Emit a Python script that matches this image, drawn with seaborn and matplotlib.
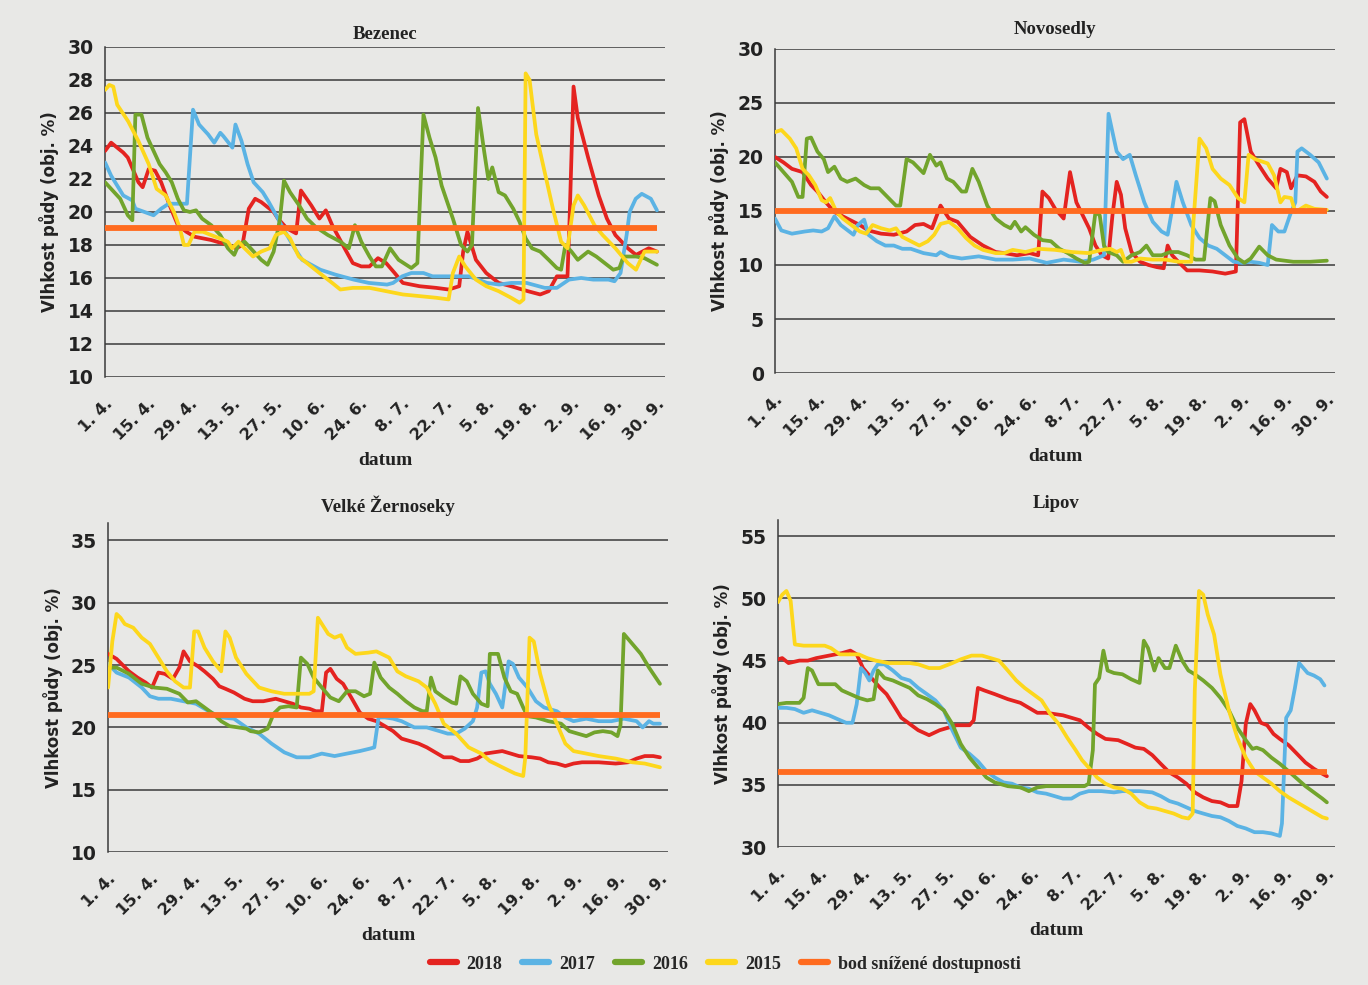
# Vlhkost pudy - 4 lokality, duben az zari 2015-2018

import numpy as np
import pandas as pd
import matplotlib
matplotlib.use("Agg")
import matplotlib.pyplot as plt
from matplotlib.lines import Line2D
import seaborn as sns


# -------------------------------
# 1. Data (den od 1. 4., vlhkost obj. %)
# -------------------------------

tick_days = list(range(0, 183, 14))
tick_labels = ["1. 4.", "15. 4.", "29. 4.", "13. 5.", "27. 5.", "10. 6.", "24. 6.",
               "8. 7.", "22. 7.", "5. 8.", "19. 8.", "2. 9.", "16. 9.", "30. 9."]

years = ["2018", "2017", "2016", "2015"]
colors = {"2018": "#e42320", "2017": "#5bb3e4", "2016": "#72a42c", "2015": "#fdd71c"}
threshold_color = "#ff6b1f"
threshold_label = "bod snížené dostupnosti"

# Bezenec
BEZ_2018 = [(0, 23.7), (2, 24.2), (6, 23.6), (7.5, 23.3), (11, 21.8), (12.4, 21.5), (14.4, 22.6),
            (16.5, 22.5), (18.5, 21.8), (21.3, 20.4), (24, 19.2), (26.8, 18.8), (29.5, 18.5), (35, 18.3),
            (40.5, 18.0), (43.3, 17.8), (45.3, 18.0), (47.4, 20.2), (49.5, 20.8), (51.5, 20.6), (55.6, 20.0),
            (57, 19.6), (60, 19.0), (63, 18.7), (64.6, 21.3), (68, 20.4), (70.7, 19.6), (72.8, 20.1),
            (74.9, 19.2), (79, 17.8), (81.7, 16.9), (84.5, 16.7), (87.2, 16.7), (90, 17.2), (92.7, 16.9),
            (95.5, 16.3), (98.2, 15.7), (103.7, 15.5), (109.2, 15.4), (113.3, 15.3), (116.8, 15.5),
            (118.1, 17.6), (119.5, 18.8), (122.3, 17.1), (125.7, 16.3), (129.8, 15.7), (133.9, 15.5),
            (139.4, 15.2), (143.5, 15.0), (146.3, 15.2), (149, 16.1), (152.5, 16.1), (153.2, 19.6),
            (154.5, 27.6), (155.9, 25.7), (159.3, 23.3), (162.8, 21.0), (165.5, 19.6), (168.3, 18.6),
            (172.4, 17.8), (175.1, 17.4), (179.3, 17.8), (182, 17.6)]
BEZ_2017 = [(0, 23.0), (2, 22.2), (6, 21.0), (9, 20.7), (10, 20.2), (13, 20.0), (16, 19.8), (18.5, 20.2),
            (21, 20.5), (27, 20.5), (29, 26.2), (31, 25.3), (34, 24.7), (36, 24.2), (38, 24.8), (39, 24.6),
            (42, 23.9), (43, 25.3), (45, 24.3), (47, 22.9), (49, 21.8), (52, 21.2), (54, 20.6), (57, 19.6),
            (60, 18.6), (62.5, 17.8), (65, 17.1), (71, 16.5), (76, 16.2), (82, 15.9), (87, 15.7), (93, 15.6),
            (95, 15.7), (98, 16.1), (101, 16.3), (105, 16.3), (108, 16.1), (112, 16.1), (116, 16.1),
            (120, 16.1), (126, 15.7), (130, 15.6), (134, 15.7), (139, 15.7), (145, 15.4), (149, 15.4),
            (153, 15.9), (157, 16.0), (161, 15.9), (166, 15.9), (168, 15.8), (170, 16.3), (172, 18.6),
            (173, 20.0), (175, 20.8), (177, 21.1), (180, 20.8), (182, 20.1)]
BEZ_2016 = [(0, 21.8), (2, 21.4), (5, 20.8), (7.5, 19.8), (9, 19.5), (10, 25.9), (12, 25.9), (14, 24.5),
            (16, 23.7), (18, 22.9), (20, 22.4), (22, 21.8), (24, 20.8), (26, 20.1), (28, 20.0), (30, 20.1),
            (32, 19.6), (35, 19.2), (38, 18.6), (40.5, 17.8), (42.6, 17.4), (44, 18.0), (46, 18.2),
            (49, 17.6), (51.5, 17.1), (53.6, 16.8), (55.6, 17.6), (57.7, 19.6), (59, 21.9), (61, 21.2),
            (64, 20.4), (66.6, 19.6), (69.4, 19.1), (73.5, 18.6), (77.6, 18.2), (80.4, 17.8), (82.4, 19.2),
            (84.5, 18.2), (87.2, 17.3), (89.3, 16.7), (91.3, 16.7), (94, 17.8), (96.8, 17.1), (101, 16.6),
            (103, 16.9), (105, 25.9), (107, 24.5), (109, 23.3), (111, 21.6), (114.7, 19.6), (117.4, 18.0),
            (119.5, 17.6), (121, 18.0), (123, 26.3), (125, 23.7), (126.4, 22.0), (127.7, 22.7),
            (129.8, 21.2), (131.9, 21.0), (134.6, 20.2), (136.7, 19.4), (138.7, 18.4), (140.8, 17.8),
            (143.5, 17.6), (146.3, 17.1), (149, 16.6), (150.4, 16.5), (151.8, 18.0), (153.8, 17.6),
            (155.9, 17.1), (159.3, 17.6), (162, 17.3), (164.8, 16.9), (167.6, 16.5), (169.6, 16.6),
            (171, 17.3), (175.1, 17.3), (177.9, 17.2), (182, 16.8)]
BEZ_2015 = [(0, 27.4), (1.4, 27.7), (2.7, 27.6), (4, 26.5), (7.6, 25.5), (11, 24.3), (14.4, 22.9),
            (17, 21.4), (20, 21.0), (22.7, 20.0), (24.7, 19.0), (26, 18.0), (27.5, 18.0), (29.5, 18.8),
            (32.3, 18.8), (35, 18.6), (37.8, 18.4), (40.5, 18.2), (41.9, 17.8), (44, 18.2), (46, 17.8),
            (48.8, 17.3), (51.5, 17.6), (54.3, 17.8), (56.3, 18.6), (59, 18.8), (61, 18.4), (63.9, 17.3),
            (66.6, 16.9), (70.7, 16.3), (74.9, 15.7), (77.6, 15.3), (81.7, 15.4), (87.2, 15.4), (92.7, 15.2),
            (98.2, 15.0), (103.7, 14.9), (109.2, 14.8), (113.3, 14.7), (114.7, 16.3), (116.8, 17.3),
            (118.8, 16.7), (122.3, 15.9), (125.7, 15.5), (129.8, 15.2), (133.9, 14.8), (136.7, 14.5),
            (138, 14.7), (138.7, 28.4), (140, 28.0), (142.2, 24.7), (145, 22.4), (147.7, 20.2),
            (150.4, 18.2), (152.5, 17.8), (154.5, 20.4), (155.9, 21.0), (158, 20.4), (161.4, 19.2),
            (164.1, 18.6), (168.3, 17.8), (172.4, 16.9), (175.1, 16.5), (177.9, 17.6), (182, 17.6)]

# Novosedly
NOV_2018 = [(0, 20.0), (2.8, 19.5), (5.6, 18.9), (9.1, 18.6), (11.9, 17.4), (14, 16.8), (16.8, 15.8),
            (19.6, 14.9), (23.8, 14.3), (28, 13.7), (30.8, 13.2), (35, 12.9), (39.2, 12.8), (43.4, 13.1),
            (46.2, 13.7), (49, 13.8), (51.8, 13.4), (54.6, 15.5), (57.4, 14.3), (60.2, 14.0), (64.4, 12.6),
            (68.6, 11.8), (72.8, 11.2), (75.6, 11.1), (79.8, 10.9), (84, 11.1), (86.8, 10.9), (88.2, 16.8),
            (90.3, 16.2), (92.4, 15.2), (95.2, 14.3), (97.3, 18.6), (99.4, 15.8), (101.5, 14.6),
            (103.6, 13.4), (105.7, 11.8), (107.8, 10.9), (109.9, 10.6), (111.3, 14.6), (112.7, 17.7),
            (114.1, 16.5), (115.5, 13.4), (117.6, 11.2), (120.4, 10.3), (123.2, 10.0), (126, 9.8),
            (128.2, 9.7), (129.5, 11.8), (131, 10.9), (133, 10.3), (135.9, 9.5), (140, 9.5), (144.3, 9.4),
            (148.5, 9.2), (152, 9.4), (153.4, 23.2), (154.8, 23.5), (156.9, 20.5), (159.7, 19.2),
            (162.5, 18.0), (165.3, 17.1), (166.7, 18.9), (168.8, 18.6), (170.2, 17.1), (172.3, 18.3),
            (175.1, 18.2), (177.9, 17.7), (180, 16.8), (182, 16.3)]
NOV_2017 = [(0, 14.3), (2.1, 13.2), (5.6, 12.9), (9.8, 13.1), (12.6, 13.2), (15.4, 13.1), (17.5, 13.4),
            (19.6, 14.5), (21.7, 13.7), (24.5, 13.1), (25.9, 12.8), (27.3, 13.7), (29.4, 14.2), (30.8, 12.8),
            (33.6, 12.2), (36.4, 11.8), (39.2, 11.8), (42, 11.5), (44.8, 11.5), (49, 11.1), (53.2, 10.9),
            (54.6, 11.2), (57.4, 10.8), (61.6, 10.6), (67.2, 10.8), (72.8, 10.5), (78.4, 10.5), (84, 10.6),
            (89.6, 10.2), (95.2, 10.5), (100.8, 10.3), (105, 10.5), (108.5, 10.9), (110, 24.0),
            (111.3, 22.3), (112.7, 20.5), (114.8, 19.8), (117, 20.2), (119, 18.3), (121.8, 15.8),
            (124.6, 14.0), (127.5, 13.1), (129.5, 12.8), (131, 15.2), (132.4, 17.7), (134.5, 15.8),
            (137.3, 13.7), (140, 12.5), (142.9, 11.8), (145.7, 11.5), (148.5, 10.9), (151.3, 10.3),
            (154, 10.2), (156.9, 10.3), (159.7, 10.2), (162.5, 10.0), (163.9, 13.7), (166, 13.1),
            (168, 13.1), (170.2, 14.9), (171.6, 15.8), (172.3, 20.5), (173.7, 20.8), (176.5, 20.2),
            (179.3, 19.5), (182, 18.0)]
NOV_2016 = [(0, 19.5), (2.8, 18.6), (5.6, 17.7), (7.7, 16.3), (9.1, 16.3), (10.5, 21.7), (11.9, 21.8),
            (14, 20.5), (16.1, 19.8), (17.5, 18.6), (19.6, 19.1), (21.7, 18.0), (23.8, 17.7), (26.6, 18.0),
            (29.4, 17.4), (31.5, 17.1), (34.3, 17.1), (37.1, 16.3), (39.9, 15.5), (41.3, 15.5), (43.4, 19.8),
            (45.5, 19.5), (47.6, 18.9), (49, 18.5), (51.1, 20.2), (53.2, 19.2), (54.6, 19.5), (56.7, 18.0),
            (58.8, 17.7), (61.6, 16.8), (63, 16.8), (65.1, 18.9), (67.2, 17.7), (70, 15.5), (72.8, 14.3),
            (75.6, 13.7), (77.7, 13.4), (79.1, 14.0), (81.2, 13.1), (82.6, 13.5), (85.4, 12.8), (88.2, 12.3),
            (91, 12.2), (93.8, 11.5), (96.6, 11.1), (99.4, 10.6), (102.2, 10.2), (103.6, 10.3),
            (105.7, 14.9), (107.1, 14.6), (108.5, 11.8), (109.9, 11.2), (112.7, 10.9), (114.8, 10.3),
            (117.6, 10.9), (120.4, 11.2), (122.5, 11.8), (124.6, 10.9), (127.5, 10.9), (130.3, 11.2),
            (133, 11.2), (135.9, 10.9), (138.7, 10.5), (141.5, 10.5), (143.6, 16.2), (145, 15.9),
            (147, 13.7), (149.9, 11.8), (152.7, 10.6), (154.8, 10.2), (156.9, 10.6), (159.7, 11.7),
            (162.5, 10.9), (165.3, 10.5), (170.9, 10.3), (176.5, 10.3), (182, 10.4)]
NOV_2015 = [(0, 22.3), (2.1, 22.5), (4.9, 21.7), (7, 20.8), (9.1, 18.9), (11.2, 18.3), (13.3, 17.4),
            (15.4, 16.0), (16.8, 15.8), (18.2, 16.2), (20.3, 14.9), (22.4, 14.3), (25.2, 13.7), (28, 13.1),
            (30.1, 12.9), (32.2, 13.7), (35, 13.4), (37.8, 13.2), (39.9, 13.4), (42, 12.6), (44.8, 12.2),
            (47.6, 11.8), (50.4, 12.2), (52.5, 12.8), (54.6, 13.8), (57.4, 14.0), (60.2, 13.4), (63, 12.5),
            (65.8, 11.8), (68.6, 11.4), (72.8, 11.1), (75.6, 11.1), (78.4, 11.4), (82.6, 11.2), (86.8, 11.5),
            (92.4, 11.4), (98, 11.2), (103.6, 11.1), (107.8, 11.4), (110.6, 11.5), (112.7, 11.2),
            (114.1, 11.4), (115.5, 10.3), (117.6, 10.3), (120.4, 10.6), (124.6, 10.5), (128.9, 10.5),
            (133, 10.3), (137.3, 10.3), (138, 14.0), (140, 21.7), (142.2, 20.8), (144.3, 18.9), (147, 18.0),
            (149.9, 17.4), (152.7, 16.2), (154.8, 15.8), (156.2, 20.2), (158.3, 19.8), (162.5, 19.4),
            (164.6, 18.3), (166.7, 15.8), (168, 16.3), (170.2, 16.2), (171.6, 14.9), (175.1, 15.5),
            (177.9, 15.2), (182, 15.1)]

# Velke Zernoseky
ZER_2018 = [(0, 25.9), (2.8, 25.5), (6.9, 24.5), (9.7, 24.0), (12.4, 23.6), (14.5, 23.2), (16.6, 24.4),
            (18.7, 24.3), (21.4, 23.9), (23.5, 24.8), (24.9, 26.1), (27, 25.3), (29.7, 24.9), (31.8, 24.5),
            (34.6, 23.9), (36.7, 23.3), (38.7, 23.1), (41.5, 22.8), (45, 22.3), (47.7, 22.1), (51.2, 22.1),
            (55.3, 22.3), (58.1, 22.1), (60.9, 21.9), (63.6, 21.6), (66.4, 21.5), (68.5, 21.3), (70.5, 21.3),
            (71.9, 24.4), (73.3, 24.7), (75.4, 23.9), (77.5, 23.5), (80.2, 22.4), (83, 21.2), (85.8, 20.7),
            (88.5, 20.5), (91.3, 20.1), (94, 19.7), (96.8, 19.1), (99.6, 18.9), (102.4, 18.7), (105.1, 18.4),
            (107.9, 18.0), (110.7, 17.6), (113.4, 17.6), (116.2, 17.3), (119, 17.3), (121.7, 17.5),
            (124.5, 17.9), (127.2, 18.0), (130, 18.1), (132.8, 17.9), (135.5, 17.7), (139.7, 17.6),
            (142.5, 17.5), (145.2, 17.2), (148, 17.1), (150.8, 16.9), (153.5, 17.1), (156.3, 17.2),
            (161.8, 17.2), (167.4, 17.1), (171.5, 17.2), (174.3, 17.5), (177, 17.7), (179.8, 17.7),
            (182, 17.6)]
ZER_2017 = [(0, 25.1), (2.8, 24.4), (6.9, 24.0), (11.1, 23.2), (13.8, 22.5), (16.6, 22.3), (20.7, 22.3),
            (24.9, 22.1), (29, 21.9), (33.2, 21.3), (37.3, 20.8), (41.5, 20.7), (45.6, 20.0), (49.8, 19.5),
            (53.9, 18.7), (58.1, 18.0), (62.2, 17.6), (66.4, 17.6), (70.5, 17.9), (74.7, 17.7), (78.8, 17.9),
            (83, 18.1), (86.4, 18.3), (87.8, 18.4), (89.2, 20.8), (91.3, 20.8), (94, 20.7), (96.8, 20.5),
            (101, 20.0), (105.1, 20.0), (109.3, 19.7), (112, 19.5), (114.8, 19.5), (117.6, 19.9),
            (120.3, 20.5), (121.7, 21.6), (123.1, 24.4), (124.5, 24.5), (125.9, 23.5), (127.9, 22.7),
            (130, 21.6), (132.1, 25.3), (133.5, 25.1), (135.5, 24.0), (138.3, 23.2), (141.1, 22.1),
            (143.8, 21.6), (148, 21.3), (150.8, 20.8), (153.5, 20.5), (157.7, 20.7), (161.8, 20.5),
            (166, 20.5), (170.1, 20.7), (174.3, 20.5), (176.3, 20.0), (178.4, 20.5), (179.8, 20.3),
            (182, 20.3)]
ZER_2016 = [(0, 24.8), (2.8, 24.8), (6.9, 24.3), (11.1, 23.5), (15.2, 23.2), (19.4, 23.1), (23.5, 22.7),
            (26.3, 22.0), (29, 22.1), (31.8, 21.6), (34.6, 21.1), (37.3, 20.5), (40.1, 20.1), (42.9, 20.0),
            (45.6, 19.9), (47, 19.7), (49.8, 19.6), (52.6, 19.9), (54.6, 21.1), (56.7, 21.6), (59.5, 21.7),
            (62.2, 21.6), (63.6, 25.6), (65.7, 25.1), (67.8, 24.0), (70.5, 23.2), (73.3, 22.4), (76.1, 22.1),
            (78.8, 22.9), (81.6, 22.9), (84.4, 22.5), (86.4, 22.7), (87.8, 25.2), (89.9, 24.0), (92.7, 23.2),
            (95.4, 22.7), (98.2, 22.1), (101, 21.6), (103.7, 21.3), (105.1, 21.3), (106.5, 24.0),
            (107.9, 22.9), (110.7, 22.4), (113.4, 22.0), (114.8, 21.9), (116.2, 24.1), (118.3, 23.7),
            (120.3, 22.7), (123.1, 21.9), (125.2, 21.7), (125.9, 25.9), (128.6, 25.9), (130.7, 24.0),
            (132.8, 22.9), (134.9, 22.7), (136.9, 21.6), (138.3, 20.9), (141.1, 20.8), (145.2, 20.5),
            (149.4, 20.3), (152.1, 19.7), (154.9, 19.5), (157.7, 19.3), (160.4, 19.6), (163.2, 19.7),
            (166, 19.6), (168, 19.3), (169, 20.2), (170.1, 27.5), (172.9, 26.7), (175.7, 25.9),
            (178.4, 24.8), (182, 23.5)]
ZER_2015 = [(0, 23.2), (1.4, 26.9), (2.8, 29.1), (4.1, 28.8), (5.5, 28.3), (8.3, 28.0), (11.1, 27.2),
            (13.8, 26.7), (16.6, 25.6), (19.4, 24.5), (22.1, 23.7), (24.9, 23.2), (27, 23.2), (28.4, 27.7),
            (29.7, 27.7), (31.8, 26.4), (34.6, 25.3), (37.3, 24.5), (38.7, 27.7), (40.1, 27.2), (42.2, 25.6),
            (45.6, 24.3), (49.8, 23.2), (53.9, 22.9), (58.1, 22.7), (62.2, 22.7), (66.4, 22.7), (67.8, 22.9),
            (69.2, 28.8), (70.5, 28.3), (72.6, 27.5), (74.7, 27.2), (76.8, 27.4), (78.8, 26.4), (81.6, 25.9),
            (85.8, 26.0), (88.5, 26.1), (92.7, 25.6), (95.4, 24.5), (98.2, 24.1), (102.4, 23.7),
            (105.1, 23.2), (107.9, 21.9), (110.7, 20.3), (114.8, 19.5), (118.9, 18.4), (123.1, 17.9),
            (125.9, 17.3), (130, 16.8), (134.2, 16.3), (136.9, 16.1), (137.6, 17.6), (139, 27.2),
            (140.4, 26.9), (142.5, 24.3), (145.2, 21.9), (148, 20.3), (150.8, 18.7), (153.5, 18.1),
            (157.7, 17.9), (161.8, 17.7), (167.4, 17.5), (172.9, 17.2), (177, 17.1), (182, 16.8)]

# Lipov
LIP_2018 = [(0, 45.1), (1.4, 45.2), (3.5, 44.8), (7.1, 45.0), (9.9, 45.0), (12.7, 45.2), (16.9, 45.4),
            (21.2, 45.6), (24, 45.8), (26.1, 45.5), (28.2, 44.4), (31, 43.6), (33.9, 42.8), (36, 42.3),
            (38.1, 41.5), (40.9, 40.4), (43.7, 39.9), (46.5, 39.4), (50.1, 39.0), (53.6, 39.4), (56.4, 39.6),
            (59.2, 39.8), (63.5, 39.8), (64.9, 40.2), (66.3, 42.8), (68.4, 42.6), (71.9, 42.3), (76.2, 41.9),
            (80.4, 41.6), (83.2, 41.2), (86, 40.8), (88.9, 40.8), (91.7, 40.7), (94.5, 40.6), (97.3, 40.4),
            (100.1, 40.2), (103, 39.6), (105.8, 39.1), (108.6, 38.7), (112.8, 38.6), (115.7, 38.3),
            (118.5, 38.0), (121.3, 37.9), (124.1, 37.4), (126.9, 36.7), (129.8, 36.0), (132.6, 35.6),
            (135.4, 35.1), (138.2, 34.4), (141, 34.0), (143.9, 33.7), (146.7, 33.6), (149.5, 33.3),
            (152.3, 33.3), (153.7, 35.3), (155.1, 39.9), (156.6, 41.5), (158, 41.0), (160.1, 40.0),
            (162.2, 39.8), (164.3, 39.1), (166.4, 38.7), (169.3, 38.2), (172.1, 37.5), (174.9, 36.8),
            (177.7, 36.3), (180.5, 35.9), (182, 35.7)]
LIP_2017 = [(0, 41.2), (2.8, 41.2), (5.6, 41.1), (8.5, 40.8), (11.3, 41.0), (14.1, 40.8), (16.9, 40.6),
            (19.7, 40.3), (22.6, 40.0), (24.7, 40.0), (26.1, 41.5), (27.5, 44.4), (28.9, 44.0), (30.3, 43.4),
            (31.7, 44.2), (33.1, 44.7), (35.3, 44.7), (38.1, 44.2), (40.9, 43.6), (43.7, 43.4), (46.5, 42.8),
            (49.4, 42.3), (52.2, 41.8), (55, 41.0), (57.8, 39.4), (60.6, 38.0), (63.5, 37.5), (66.3, 36.9),
            (69.1, 36.1), (71.9, 35.6), (74.8, 35.2), (77.6, 35.1), (80.4, 34.8), (83.2, 34.7), (86, 34.4),
            (88.9, 34.3), (91.7, 34.1), (94.5, 33.9), (97.3, 33.9), (100.1, 34.3), (103, 34.5),
            (107.2, 34.5), (111.4, 34.4), (114.2, 34.5), (119.9, 34.5), (124.1, 34.4), (126.9, 34.1),
            (129.8, 33.7), (132.6, 33.5), (135.4, 33.2), (138.2, 32.9), (141, 32.7), (143.9, 32.5),
            (146.7, 32.4), (149.5, 32.1), (152.3, 31.7), (155.1, 31.5), (158, 31.2), (160.8, 31.2),
            (163.6, 31.1), (166.4, 30.9), (167.1, 31.9), (168.5, 40.4), (170, 41.0), (171.4, 42.8),
            (172.8, 44.8), (174.2, 44.4), (175.6, 44.0), (177.7, 43.8), (179.8, 43.5), (181.2, 43.0)]
LIP_2016 = [(0, 41.5), (2.8, 41.6), (7.1, 41.6), (8.5, 42.0), (9.9, 44.4), (11.3, 44.2), (13.4, 43.1),
            (16.2, 43.1), (19, 43.1), (21.2, 42.6), (24, 42.3), (26.8, 42.0), (29.6, 41.8), (31.7, 41.9),
            (33.1, 44.2), (35.3, 43.6), (38.1, 43.4), (40.9, 43.1), (43.7, 42.8), (46.5, 42.2), (49.4, 41.9),
            (52.2, 41.5), (55, 41.0), (57.8, 39.9), (60.6, 38.3), (63.5, 37.2), (66.3, 36.4), (69.1, 35.6),
            (71.9, 35.2), (76.2, 34.9), (80.4, 34.8), (83.2, 34.5), (86, 34.8), (88.9, 34.9), (93.1, 34.9),
            (97.3, 34.9), (101.6, 34.9), (103, 35.1), (104.4, 37.8), (105.1, 43.1), (106.5, 43.6),
            (107.9, 45.8), (109.3, 44.2), (111.4, 44.0), (114.2, 43.9), (117.1, 43.5), (119.9, 43.2),
            (121.3, 46.6), (122.7, 46.0), (124.8, 44.2), (126.2, 45.2), (128.3, 44.4), (129.8, 44.4),
            (131.9, 46.2), (134, 45.0), (136.1, 44.2), (138.2, 43.9), (141, 43.4), (143.9, 42.8),
            (146.7, 42.0), (149.5, 41.0), (152.3, 39.6), (155.1, 38.6), (157.3, 37.9), (158.7, 38.0),
            (160.8, 37.8), (163.6, 37.2), (166.4, 36.7), (169.3, 36.1), (172.1, 35.5), (174.9, 34.9),
            (177.7, 34.4), (180.5, 33.9), (182, 33.6)]
LIP_2015 = [(0, 49.7), (1.4, 50.3), (2.8, 50.6), (4.2, 49.8), (5.6, 46.3), (8.5, 46.2), (12.7, 46.2),
            (15.5, 46.2), (17.6, 46.0), (20.5, 45.5), (24, 45.5), (26.8, 45.5), (29.6, 45.2), (32.4, 45.0),
            (36.7, 44.8), (40.9, 44.8), (43.7, 44.8), (46.5, 44.7), (50.1, 44.4), (53.6, 44.4), (57.8, 44.8),
            (60.6, 45.1), (64.2, 45.4), (67.7, 45.4), (70.5, 45.2), (73.3, 45.0), (76.2, 44.2), (79, 43.4),
            (81.8, 42.8), (84.6, 42.3), (87.4, 41.8), (90.3, 40.7), (93.1, 39.9), (95.9, 38.8), (98.7, 37.8),
            (100.8, 37.0), (103, 36.4), (105.8, 35.6), (108.6, 35.1), (111.4, 34.8), (114.2, 34.7),
            (117.1, 34.3), (119.9, 33.6), (122.7, 33.2), (125.5, 33.1), (128.3, 32.9), (131.2, 32.7),
            (134, 32.4), (136.1, 32.3), (137.5, 32.7), (138.2, 42.6), (139.6, 50.6), (141, 50.3),
            (142.5, 48.7), (144.6, 47.1), (146.7, 43.9), (149.5, 41.0), (152.3, 38.8), (155.1, 37.2),
            (158, 36.1), (160.8, 35.6), (163.6, 35.1), (166.4, 34.5), (169.3, 34.0), (172.1, 33.6),
            (174.9, 33.2), (177.7, 32.8), (180.5, 32.4), (182, 32.3)]

panel_names = ["Bezenec", "Novosedly", "Velké Žernoseky", "Lipov"]
panel_series = [
    [BEZ_2018, BEZ_2017, BEZ_2016, BEZ_2015],
    [NOV_2018, NOV_2017, NOV_2016, NOV_2015],
    [ZER_2018, ZER_2017, ZER_2016, ZER_2015],
    [LIP_2018, LIP_2017, LIP_2016, LIP_2015],
]
thresholds = [19, 15, 21, 36]
y_ranges = [(10, 30, 2), (0, 30, 5), (10, 35, 5), (30, 55, 5)]
y_tops = [30, 30, 36.4, 56.3]
title_pads = [6, 11, 8, 9]


# -------------------------------
# 2. Style
# -------------------------------

bg = "#e8e8e6"
sns.set_style("white")
plt.rcParams["font.family"] = ["DejaVu Sans"]
plt.rcParams["figure.facecolor"] = bg
plt.rcParams["axes.facecolor"] = bg

fig = plt.figure(figsize=(13.68, 9.85), dpi=100)

# [left, bottom, width, height] v souradnicich obrazku
positions = [
    [0.0768, 0.6173, 0.4094, 0.3350],
    [0.5665, 0.6213, 0.4094, 0.3290],
    [0.0790, 0.1350, 0.4094, 0.3340],
    [0.5687, 0.1400, 0.4072, 0.3320],
]

serif = ["Liberation Serif", "DejaVu Serif"]


# -------------------------------
# 3. Panels
# -------------------------------

for name, series, thr, (lo, hi, step), top, tpad, pos in zip(
        panel_names, panel_series, thresholds, y_ranges, y_tops, title_pads, positions):
    ax = fig.add_axes(pos)

    frames = []
    for year, pts in zip(years, series):
        arr = np.array(pts)
        frames.append(pd.DataFrame({"den": arr[:, 0], "vlhkost": arr[:, 1], "rok": year}))
    df = pd.concat(frames, ignore_index=True)

    for y in np.arange(lo, hi + 0.1, step):
        ax.axhline(y, color="#3a3a3a", lw=1.1, zorder=1)

    sns.lineplot(data=df, x="den", y="vlhkost", hue="rok", hue_order=years,
                 palette=colors, estimator=None, sort=False, lw=2.7,
                 legend=False, ax=ax, zorder=3)
    ax.hlines(thr, 0, 182, color=threshold_color, lw=4.2, zorder=4)

    ax.set_xlim(0, 184.7)
    ax.set_ylim(lo, top)
    ax.set_yticks(np.arange(lo, hi + 0.1, step))
    ax.set_xticks(tick_days)
    ax.set_xticklabels(tick_labels, rotation=45, ha="right", rotation_mode="anchor",
                       fontsize=11.5, fontweight="bold", color="#222222")
    for lab in ax.get_yticklabels():
        lab.set_fontsize(13.5)
        lab.set_fontweight("bold")
        lab.set_color("#222222")
    ax.tick_params(axis="y", length=5, width=1.1, color="#3a3a3a", pad=3)
    ax.tick_params(axis="x", length=0, pad=14)

    for side in ["top", "right", "bottom"]:
        ax.spines[side].set_visible(False)
    ax.spines["left"].set_color("#3a3a3a")
    ax.spines["left"].set_linewidth(1.1)

    ax.set_title(name, family=serif, fontweight="bold", fontsize=13.5,
                 color="#222222", pad=tpad)
    ax.set_xlabel("datum", family=serif, fontweight="bold", fontsize=14,
                  color="#222222", labelpad=6)
    ax.set_ylabel("Vlhkost půdy (obj. %)", fontweight="bold", fontsize=12,
                  color="#222222", labelpad=6)


# -------------------------------
# 4. Legend
# -------------------------------

handles = [Line2D([0], [0], color=colors[y], lw=4.5) for y in years]
handles.append(Line2D([0], [0], color=threshold_color, lw=4.5))
labels = years + [threshold_label]
fig.legend(handles, labels, loc="center", bbox_to_anchor=(0.53, 0.021), ncol=5,
           frameon=False, handlelength=1.5, handletextpad=0.55, columnspacing=1.1,
           prop={"family": serif, "weight": "bold", "size": 13})

fig.savefig("out.png", dpi=100, facecolor=bg)
